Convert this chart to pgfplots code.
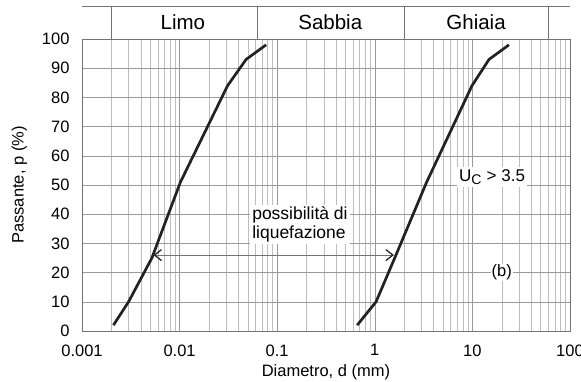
\documentclass[border=0pt]{standalone}
\usepackage{fontspec}
\setmainfont{Liberation Sans}
\usepackage{pgfplots}
\pgfplotsset{compat=1.18}
\usetikzlibrary{arrows.meta}
\definecolor{curve}{HTML}{222222}
\definecolor{gridmaj}{HTML}{9A9A9A}
\definecolor{gridmin}{HTML}{BDBDBD}
\newcommand{\fs}{\fontsize{16.5bp}{19bp}\selectfont}
\begin{document}
\begin{tikzpicture}
\useasboundingbox (-82bp,-51bp) rectangle (499bp,331bp);
\begin{axis}[
    scale only axis,
    width=488bp, height=292bp,
    xmode=log,
    xmin=0.001, xmax=100,
    ymin=0, ymax=100,
    xtick={0.001,0.01,0.1,1,10,100},
    xticklabels={0.001,0.01,0.1,1,10,100},
    ytick={0,10,...,100},
    /pgf/number format/assume math mode=true,
    tick label style={font=\fs},
    xticklabel style={yshift=-10bp},
    yticklabel style={xshift=-9bp},
    major tick length=0pt, minor tick length=0pt,
    grid=both,
    major grid style={gridmaj, line width=0.5pt},
    minor grid style={gridmin, line width=0.5pt},
    axis line style={gray!90!black, line width=0.6pt},
    xlabel={Diametro, d (mm)},
    ylabel={Passante, p (\%)},
    label style={font=\fs},
    xlabel style={yshift=-2bp},
    ylabel style={yshift=8bp},
    clip=false,
]
% curva fine (limo)
\addplot[curve, line width=2.7bp, line join=round] coordinates {
    (0.0021, 2) (0.003, 10) (0.0052, 25) (0.0102, 51)
    (0.031, 84) (0.048, 93) (0.077, 98)
};
% curva grossa (ghiaia)
\addplot[curve, line width=2.7bp, line join=round] coordinates {
    (0.66, 2) (1.03, 10) (1.6, 25) (3.4, 51)
    (9.9, 84) (14.8, 93) (23.7, 98)
};
% freccia
\addplot[gray!90!black, line width=0.7pt,
    {Straight Barb[length=7bp,width=11bp,line width=1.3pt,color=black!85]}-{Straight Barb[length=7bp,width=11bp,line width=1.3pt,color=black!85]}]
    coordinates {(0.0054, 26) (1.57, 26)};
% fascia superiore
\addplot[gray!90!black, line width=0.7pt] coordinates {(0.001, 111.3) (100, 111.3)};
\addplot[gray!90!black, line width=0.7pt] coordinates {(0.002, 100) (0.002, 111.3)};
\addplot[gray!90!black, line width=0.7pt] coordinates {(0.063, 100) (0.063, 111.3)};
\addplot[gray!90!black, line width=0.7pt] coordinates {(2, 100) (2, 111.3)};
\addplot[gray!90!black, line width=0.7pt] coordinates {(60, 100) (60, 111.3)};
\node[font=\fontsize{20.5bp}{23bp}\selectfont] at (axis cs:0.0108, 105.7) {Limo};
\node[font=\fontsize{20.5bp}{23bp}\selectfont] at (axis cs:0.35, 105.7) {Sabbia};
\node[font=\fontsize{20.5bp}{23bp}\selectfont] at (axis cs:10.9, 105.7) {Ghiaia};
% annotazioni
\node[fill=white, align=left, inner sep=2bp,
    font=\fontsize{17.5bp}{18.5bp}\selectfont] at (axis cs:0.171, 36.6)
    {possibilità di\\liquefazione};
\node[fill=white, inner sep=2bp, font=\fontsize{17bp}{19bp}\selectfont] at (axis cs:15.9, 52.7)
    {U\textsubscript{\fontsize{14bp}{16bp}\selectfont C} > 3.5};
\node[fill=white, inner sep=1bp, font=\fs] at (axis cs:20, 20) {(b)};
\end{axis}
\end{tikzpicture}
\end{document}
